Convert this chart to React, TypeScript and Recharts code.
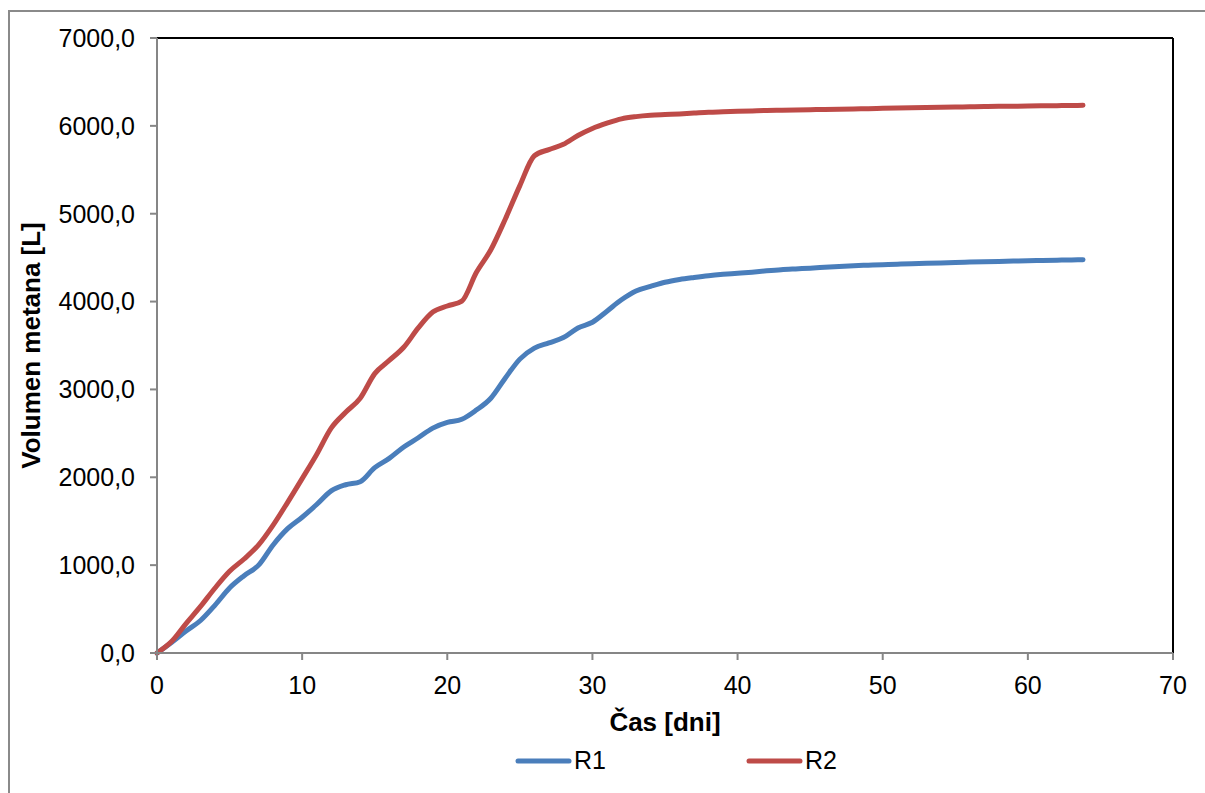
import { LineChart, Line, XAxis, YAxis, ReferenceLine, Legend } from 'recharts';

// čas v dnevih
const days = [
  0, 1, 2, 3, 4, 5, 6, 7, 8, 9, 10, 11, 12, 13, 14, 15, 16, 17, 18, 19, 20, 21, 22, 23, 24, 25,
  26, 27, 28, 29, 30, 31, 32, 33, 34, 35, 36, 37, 38, 39, 40, 41, 42, 43, 44, 45, 46, 47, 48, 49,
  50, 51, 52, 53, 54, 55, 56, 57, 58, 59, 60, 61, 62, 63, 63.8,
];

const r1Values = [
  0, 120, 250, 370, 545, 740, 880, 1000, 1230, 1415, 1545, 1690, 1845, 1915, 1950, 2110, 2215,
  2345, 2450, 2560, 2625, 2660, 2765, 2900, 3130, 3345, 3470, 3530, 3590, 3700, 3765, 3890, 4020,
  4120, 4172, 4220, 4252, 4275, 4295, 4310, 4322, 4335, 4350, 4363, 4372, 4380, 4390, 4400, 4408,
  4414, 4420, 4425, 4430, 4435, 4440, 4445, 4449, 4453, 4457, 4461, 4465, 4468, 4471, 4474, 4477,
];

const r2Values = [
  0, 130, 335, 530, 740, 930, 1070, 1230, 1455, 1715, 1985, 2260, 2560, 2740, 2900, 3180, 3330,
  3480, 3700, 3880, 3950, 4005, 4330, 4590, 4940, 5320, 5660, 5730, 5790, 5890, 5970, 6030, 6080,
  6105, 6120, 6128, 6135, 6145, 6155, 6160, 6165, 6170, 6175, 6178, 6181, 6184, 6187, 6190, 6193,
  6196, 6199, 6202, 6205, 6208, 6211, 6214, 6217, 6220, 6222, 6224, 6226, 6228, 6230, 6232, 6234,
];

const xTicks = [0, 10, 20, 30, 40, 50, 60, 70];
const yTicks = [0, 1000, 2000, 3000, 4000, 5000, 6000, 7000];

const data = days.map((day, i) => ({ day, r1: r1Values[i], r2: r2Values[i] }));

const FONT = '"Liberation Sans", Arial, sans-serif';
const BLUE = '#4A7EBB';
const RED = '#BE4B48';
const AXIS = '#868686';

const fmtY = (v: number) => v.toFixed(1).replace('.', ',');

const renderLegend = () => (
  <div style={{ display: 'flex', paddingLeft: 515, fontFamily: FONT, fontSize: 25, color: '#000' }}>
    {[
      { name: 'R1', color: BLUE },
      { name: 'R2', color: RED },
    ].map((item, i) => (
      <div key={item.name} style={{ display: 'flex', alignItems: 'center', marginRight: i === 0 ? 140 : 0 }}>
        <svg width={57} height={10}>
          <line x1={3} y1={5} x2={54} y2={5} stroke={item.color} strokeWidth={5} strokeLinecap="round" />
        </svg>
        <span style={{ marginLeft: 2 }}>{item.name}</span>
      </div>
    ))}
  </div>
);

export default function App() {
  return (
    <div style={{ position: 'absolute', left: 0, top: 0, width: 1205, height: 793, background: '#fff', overflow: 'hidden' }}>
      <div
        style={{
          position: 'absolute',
          left: 8,
          top: 10,
          width: 1300,
          height: 900,
          borderLeft: '2px solid #8a8a8a',
          borderTop: '2px solid #8a8a8a',
        }}
      />
      <div style={{ position: 'absolute', left: 0, top: 0 }}>
        <LineChart width={1205} height={793} data={data} margin={{ top: 38, right: 32, bottom: 11, left: 0 }}>
          <XAxis
            dataKey="day"
            type="number"
            domain={[0, 70]}
            ticks={xTicks}
            height={100}
            stroke={AXIS}
            strokeWidth={2}
            tickSize={7}
            tickMargin={16}
            tick={{ fill: '#000', fontSize: 25, fontFamily: FONT }}
            label={{
              content: (props: any) => {
                const vb = props.viewBox;
                return (
                  <text
                    x={vb.x + vb.width / 2}
                    y={vb.y + 78}
                    textAnchor="middle"
                    fontFamily={FONT}
                    fontSize={26}
                    fontWeight="bold"
                    fill="#000"
                  >
                    Čas [dni]
                  </text>
                );
              },
            }}
          />
          <YAxis
            type="number"
            domain={[0, 7000]}
            ticks={yTicks}
            width={157}
            stroke={AXIS}
            strokeWidth={2}
            tickSize={7}
            tickMargin={15}
            tickFormatter={fmtY}
            tick={{ fill: '#000', fontSize: 25, fontFamily: FONT }}
            label={{
              content: (props: any) => {
                const vb = props.viewBox;
                const cx = vb.x + 40;
                const cy = vb.y + vb.height / 2;
                return (
                  <text
                    x={cx}
                    y={cy}
                    transform={`rotate(-90 ${cx} ${cy})`}
                    textAnchor="middle"
                    fontFamily={FONT}
                    fontSize={26}
                    fontWeight="bold"
                    fill="#000"
                  >
                    Volumen metana [L]
                  </text>
                );
              },
            }}
          />
          <ReferenceLine y={7000} stroke="#000" strokeWidth={2} />
          <ReferenceLine x={70} stroke="#000" strokeWidth={2} />
          <Legend verticalAlign="bottom" content={renderLegend} wrapperStyle={{ left: 0, bottom: 18, width: 1205 }} />
          <Line
            name="R1"
            dataKey="r1"
            type="monotone"
            stroke={BLUE}
            strokeWidth={5}
            strokeLinecap="round"
            dot={false}
            isAnimationActive={false}
          />
          <Line
            name="R2"
            dataKey="r2"
            type="monotone"
            stroke={RED}
            strokeWidth={5}
            strokeLinecap="round"
            dot={false}
            isAnimationActive={false}
          />
        </LineChart>
      </div>
    </div>
  );
}
